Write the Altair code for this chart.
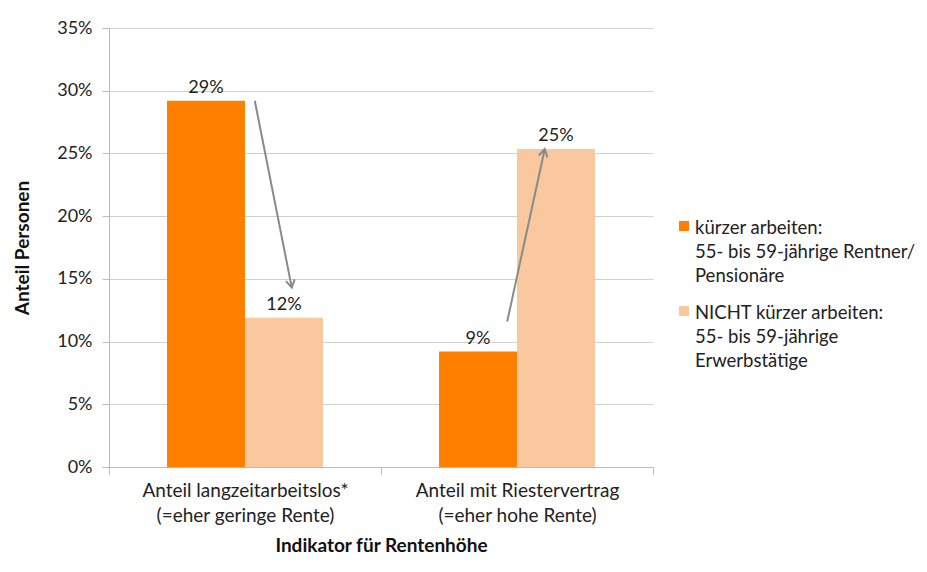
import math
import altair as alt
import pandas as pd

# ---- data ----
categories = ["Anteil langzeitarbeitslos*\n(=eher geringe Rente)",
              "Anteil mit Riestervertrag\n(=eher hohe Rente)"]
groups = ["kürzer arbeiten:\n55- bis 59-jährige Rentner/\nPensionäre",
          "NICHT kürzer arbeiten:\n55- bis 59-jährige\nErwerbstätige"]
values_kuerzer = [0.292, 0.092]
values_nicht = [0.119, 0.2535]
y_ticks = [0, .05, .1, .15, .2, .25, .3, .35]

# arrows (x as fraction of plot width, y in data units)
arrow_x_start = [0.268, 0.732]
arrow_x_end = [0.336, 0.801]
arrow_y_start = [0.292, 0.116]
arrow_y_end = [0.143, 0.2535]

colors = ["#FF7F00", "#FAC89E"]
FONT = "Lato"
W, H = 544, 439
YMAX = 0.35

rows = []
for i, c in enumerate(categories):
    rows.append({"cat": c, "grp": groups[0], "val": values_kuerzer[i]})
    rows.append({"cat": c, "grp": groups[1], "val": values_nicht[i]})
df = pd.DataFrame(rows)

arrows = []
for xs, xe, ys, ye in zip(arrow_x_start, arrow_x_end, arrow_y_start, arrow_y_end):
    dx = (xe - xs) * W
    dy = -(ye - ys) / YMAX * H
    ang = math.degrees(math.atan2(dx, -dy)) % 360
    arrows.append({"xs": xs, "xe": xe, "val": ys, "ye": ye, "ang": ang})
adf = pd.DataFrame(arrows)

yaxis = alt.Axis(format=".0%", values=y_ticks, labelFontSize=18,
                 tickSize=7, tickColor="#BBBBBB", domainColor="#BBBBBB",
                 gridColor="#D0D0D0", labelPadding=10, titlePadding=24)
yscale = alt.Scale(domain=[0, YMAX])
color_scale = alt.Scale(domain=groups, range=colors)

xenc = alt.X("cat:N", sort=categories, title="Indikator für Rentenhöhe",
             scale=alt.Scale(paddingInner=0, paddingOuter=0),
             axis=alt.Axis(labelAngle=0, labelExpr="split(datum.label, '\\n')",
                           tickBand="extent", tickSize=7, tickColor="#BBBBBB",
                           domainColor="#BBBBBB", labelPadding=7, labelFontSize=19,
                           labelLineHeight=25, labelLimit=400, titlePadding=11))
xoff = alt.XOffset("grp:N", sort=groups,
                   scale=alt.Scale(paddingInner=0, paddingOuter=0.744))
yenc = alt.Y("val:Q", title="Anteil Personen", scale=yscale, axis=yaxis)

bars = alt.Chart(df).mark_bar().encode(
    x=xenc, xOffset=xoff, y=yenc,
    color=alt.Color("grp:N", sort=groups, scale=color_scale, legend=None),
)

labels = alt.Chart(df).mark_text(baseline="bottom", dy=-4, fontSize=18, font=FONT,
                                 color="#222222").encode(
    x=alt.X("cat:N", sort=categories), xOffset=alt.XOffset("grp:N", sort=groups),
    y="val:Q", text=alt.Text("val:Q", format=".0%"))

xa = alt.X("xs:Q", scale=alt.Scale(domain=[0, 1]), axis=None)
lines = alt.Chart(adf).mark_rule(color="#8A8A8A", strokeWidth=2).encode(
    x=xa, y=alt.Y("val:Q", title="Anteil Personen", scale=yscale, axis=yaxis),
    x2="xe:Q", y2="ye:Q")
heads = alt.Chart(adf).mark_point(shape="M -0.7 1.2 L 0 0 L 0.7 1.2", filled=False,
                                  color="#8A8A8A", strokeWidth=2, size=160,
                                  opacity=1).encode(
    x=alt.X("xe:Q", scale=alt.Scale(domain=[0, 1]), axis=None),
    y=alt.Y("ye:Q", title="Anteil Personen", scale=yscale, axis=yaxis),
    angle=alt.Angle("ang:Q", scale=None))

main = alt.layer(alt.layer(bars, labels), alt.layer(lines, heads)).resolve_scale(
    x="independent").properties(width=W, height=H)

# ---- legend panel ----
ldf = pd.DataFrame({"grp": groups})
ly = alt.Y("grp:N", sort=groups, axis=None,
           scale=alt.Scale(type="point", domain=groups, range=[198, 283],
                           padding=0))
lsym = alt.Chart(ldf).mark_square(size=100, opacity=1).encode(
    x=alt.value(7), y=ly,
    color=alt.Color("grp:N", sort=groups, scale=color_scale, legend=None))
ltxt = alt.Chart(ldf).mark_text(align="left", baseline="alphabetic", dy=8,
                                lineBreak="\n", lineHeight=24, fontSize=18.5,
                                font=FONT, color="#222222").encode(
    x=alt.value(18), y=ly, text="grp:N")
legend_panel = alt.layer(lsym, ltxt).properties(width=225, height=H)

chart = alt.hconcat(main, legend_panel, spacing=23).properties(
    padding={"left": 5, "top": 11, "right": 0, "bottom": 0}
).configure_view(stroke=None).configure_axis(
    labelFont=FONT, titleFont=FONT, labelFontSize=18, titleFontSize=19,
    labelColor="#222222", titleColor="#111111", titleFontWeight="bold"
)

chart.save("out.html", embed_options={"renderer": "svg", "actions": False})
